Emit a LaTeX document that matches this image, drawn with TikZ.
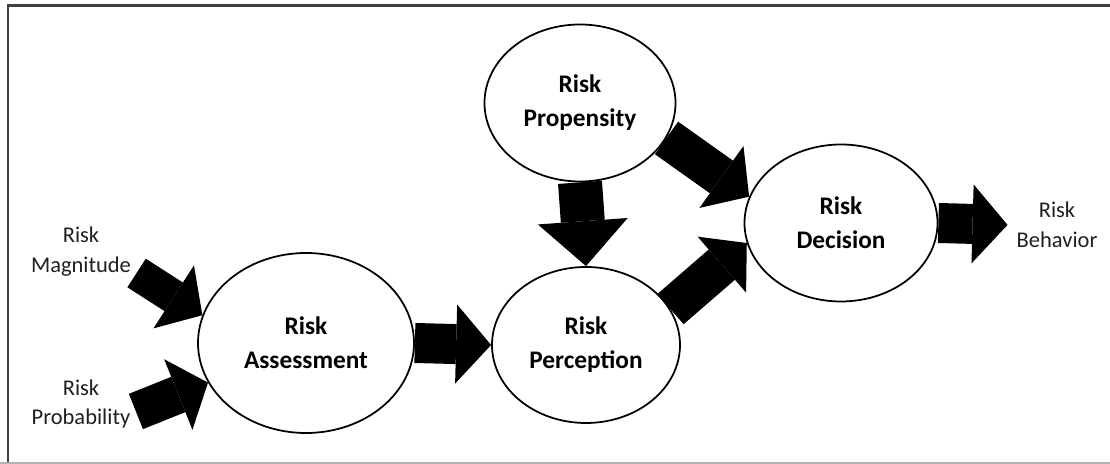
\documentclass[tikz,border=0pt]{standalone}
\usepackage{fontspec}
\setmainfont{Carlito}
\usetikzlibrary{arrows.meta,positioning,shapes.geometric}
\tikzset{
  stage/.style={draw,ellipse,line width=1pt,fill=white,inner sep=0pt,align=center,font=\bfseries\fontsize{14.4}{19.4}\selectfont},
  factor/.style={align=center,inner sep=3pt,font=\fontsize{12.8}{17}\selectfont,text=black!88},
  blk/.style={line width=0.8cm,-{Triangle[length=0.7cm,width=1.58cm,line width=0pt]}},
  frameline/.style={draw=black!75,line width=1.4pt},
}

\begin{document}
\begin{tikzpicture}
  \useasboundingbox (0,0) rectangle (22.2,9.28);
  % frame
  \draw[frameline] (0.16,0) -- (0.16,9.17) -- (22.2,9.17);
  \draw[draw=black!30,line width=0.8pt] (0,0.02) -- (22.2,0.02);
  % stages
  \node[stage,minimum width=4.32cm,minimum height=3.6cm] (assess) at (6.12,2.42) {Risk\\Assessment};
  \node[stage,minimum width=3.76cm,minimum height=3.12cm] (percep) at (11.72,2.38) {Risk\\Perception};
  \node[stage,minimum width=3.82cm,minimum height=3.14cm] (prop) at (11.6,7.22) {Risk\\Propensity};
  \node[stage,minimum width=3.86cm,minimum height=3.14cm] (decis) at (16.82,4.82) {Risk\\Decision};
  % inputs and output
  \node[factor] (mag) at (1.62,4.24) {Risk\\Magnitude};
  \node[factor] (prob) at (1.62,1.2) {Risk\\Probability};
  \node[factor] (behav) at (21.14,4.78) {Risk\\Behavior};
  % block arrows
  \draw[blk,line width=0.68cm,-{Triangle[length=0.68cm,width=1.5cm,line width=0pt]}] ([yshift=-0.42cm]mag.east) -- (assess.165);
  \draw[blk,line width=0.76cm,-{Triangle[length=0.64cm,width=1.52cm,line width=0pt]}] ([yshift=-0.15cm]prob.east) -- (assess.202);
  \draw[blk] (assess.east) -- (percep.west);
  \draw[blk,line width=0.88cm,-{Triangle[length=0.9cm,width=1.8cm,line width=0pt]}] (prop.south) -- (percep.north);
  \draw[blk,-{Triangle[length=0.68cm,width=1.52cm,line width=0pt]}] (prop.-22) -- (decis.164);
  \draw[blk,-{Triangle[length=0.66cm,width=1.48cm,line width=0pt]}] (percep.23) -- (decis.192);
  \draw[blk,shorten >=2pt] (decis.east) -- (behav.west);
\end{tikzpicture}
\end{document}
